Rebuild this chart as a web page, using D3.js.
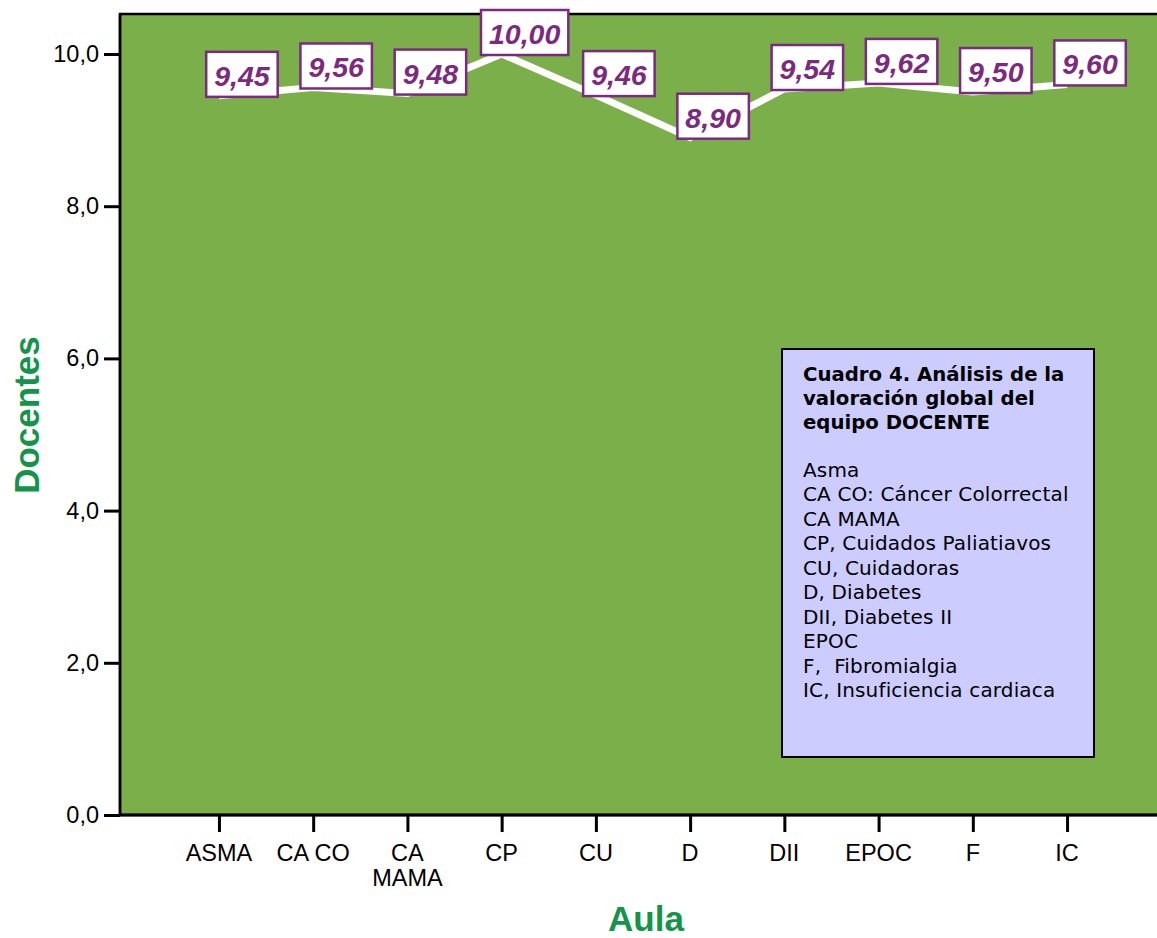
<!DOCTYPE html>
<html><head><meta charset="utf-8">
<script src="https://cdn.jsdelivr.net/npm/d3@7"></script>
<style>body{margin:0;background:#fff}svg{display:block}</style>
</head><body>
<svg id="c" width="1157" height="938"></svg>
<script>
const categories = ["ASMA","CA CO","CA MAMA","CP","CU","D","DII","EPOC","F","IC"];
const tickLabels = [["ASMA"],["CA CO"],["CA","MAMA"],["CP"],["CU"],["D"],["DII"],["EPOC"],["F"],["IC"]];
const values = [9.45,9.56,9.48,10.00,9.46,8.90,9.54,9.62,9.50,9.60];
const yTicks = [0,2,4,6,8,10];
const legendTitle = ["Cuadro 4. Análisis de la","valoración global del","equipo DOCENTE"];
const legendLines = ["Asma","CA CO: Cáncer Colorrectal","CA MAMA","CP, Cuidados Paliatiavos","CU, Cuidadoras","D, Diabetes","DII, Diabetes II","EPOC","F,  Fibromialgia","IC, Insuficiencia cardiaca"];
const xTitle = "Aula", yTitle = "Docentes";

const svg = d3.select("#c");
const L = 120, T = 14, B = 815, R = 1166;
const x = d3.scalePoint().domain(categories).range([L, R]).padding(1.05);
const y = d3.scaleLinear().domain([0, 10]).range([B, 54]);
const fmt = v => d3.format(".1f")(v).replace(".", ",");
const fmt2 = v => d3.format(".2f")(v).replace(".", ",");

// plot background
svg.append("rect").attr("x", L).attr("y", T).attr("width", 1200 - L).attr("height", B - T)
  .attr("fill", "#7aaf4a").attr("stroke", "#000").attr("stroke-width", 2.5);

// y axis
const ya = svg.append("g").attr("transform", `translate(${L},0)`)
  .call(d3.axisLeft(y).tickValues(yTicks).tickSize(16).tickPadding(5).tickFormat(fmt));
ya.select(".domain").remove();
ya.selectAll("line").attr("stroke", "#000").attr("stroke-width", 3);
ya.selectAll("text").attr("font-family", "Liberation Sans, Arial, sans-serif").attr("font-size", 23.5).attr("fill", "#000");

// x axis
const xa = svg.append("g").attr("transform", `translate(0,${B})`)
  .call(d3.axisBottom(x).tickSize(17).tickFormat(""));
xa.select(".domain").remove();
xa.selectAll("line").attr("stroke", "#000").attr("stroke-width", 3);
const xl = svg.append("g");
categories.forEach((c, i) => {
  const t = xl.append("text").attr("x", x(c)).attr("y", 861)
    .attr("text-anchor", "middle").attr("font-family", "Liberation Sans, Arial, sans-serif")
    .attr("font-size", 23.5).attr("fill", "#000");
  tickLabels[i].forEach((ln, j) => t.append("tspan").attr("x", x(c)).attr("dy", j ? 25 : 0).text(ln));
});

// bottom/left border on top
svg.append("line").attr("x1", L).attr("x2", 1157).attr("y1", B).attr("y2", B).attr("stroke", "#000").attr("stroke-width", 3);
svg.append("line").attr("x1", L).attr("x2", L).attr("y1", T).attr("y2", B).attr("stroke", "#000").attr("stroke-width", 2.5);

// line
const line = d3.line().x((d, i) => x(categories[i])).y(d => y(d));
svg.append("path").datum(values).attr("d", line).attr("fill", "none")
  .attr("stroke", "#fff").attr("stroke-width", 7).attr("stroke-linejoin", "miter");

// value labels
const lab = svg.append("g");
values.forEach((v, i) => {
  const px = x(categories[i]), py = y(v);
  const g = lab.append("g");
  const t = g.append("text").attr("x", px + 23).attr("y", py - 10)
    .attr("text-anchor", "middle").attr("font-family", "Liberation Sans, Arial, sans-serif")
    .attr("font-size", 28.5).attr("font-weight", "bold").attr("font-style", "italic")
    .attr("fill", "#7b2a80").text(fmt2(v));
  const w = t.node().getComputedTextLength() + 16;
  g.insert("rect", "text").attr("x", px + 23 - w / 2).attr("y", py + 1 - 45)
    .attr("width", w).attr("height", 45).attr("fill", "#fff")
    .attr("stroke", "#7b2a80").attr("stroke-width", 2.5);
});

// legend box
const lg = svg.append("g");
lg.append("rect").attr("x", 782).attr("y", 349).attr("width", 312).attr("height", 408)
  .attr("fill", "#ccccff").attr("stroke", "#000").attr("stroke-width", 2);
legendTitle.forEach((s, i) => lg.append("text").attr("x", 803).attr("y", 381 + i * 23.8)
  .attr("font-family", "DejaVu Sans, Verdana, sans-serif").attr("font-size", 19.7)
  .attr("font-weight", "bold").attr("fill", "#000").text(s));
legendLines.forEach((s, i) => lg.append("text").attr("x", 803).attr("y", 477 + i * 24.45)
  .attr("font-family", "DejaVu Sans, Verdana, sans-serif").attr("font-size", 20)
  .attr("letter-spacing", 0.15)
  .attr("fill", "#000").attr("xml:space", "preserve").style("white-space", "pre").text(s));

// axis titles
svg.append("text").attr("x", 646).attr("y", 931).attr("text-anchor", "middle")
  .attr("font-family", "Liberation Sans, Arial, sans-serif").attr("font-size", 35)
  .attr("font-weight", "bold").attr("fill", "#14944a").text(xTitle);
svg.append("text").attr("transform", "translate(39,415) rotate(-90)").attr("text-anchor", "middle")
  .attr("font-family", "Liberation Sans, Arial, sans-serif").attr("font-size", 35)
  .attr("font-weight", "bold").attr("fill", "#14944a").text(yTitle);
</script>
</body></html>
